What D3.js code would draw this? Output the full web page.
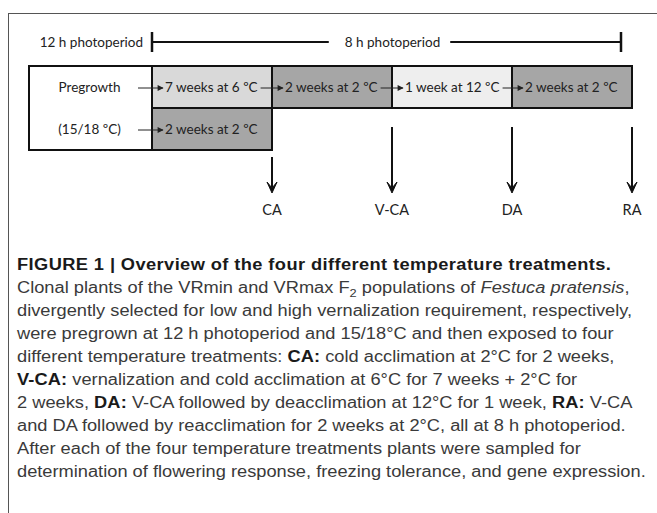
<!DOCTYPE html>
<html><head><meta charset="utf-8">
<script src="https://cdn.jsdelivr.net/npm/d3@7"></script>
<style>
html,body{margin:0;padding:0;background:#fff;}
svg{display:block;}
</style></head>
<body>
<script>
// ---- data ----
const pregrowthLabels = ["Pregrowth", "(15/18 ºC)"];
const mainSteps = ["7 weeks at 6 ºC", "2 weeks at 2 ºC", "1 week at 12 ºC", "2 weeks at 2 ºC"];
const mainTemps = [6, 2, 12, 2];
const caSteps = ["2 weeks at 2 ºC"];
const caTemps = [2];
const photoperiods = ["12 h photoperiod", "8 h photoperiod"];
const sampleLabels = ["CA", "V-CA", "DA", "RA"];
const sampleRow = [1, 0, 0, 0];      // row of the box the arrow leaves
const sampleAfter = [1, 2, 3, 4];    // step boundary index
const captionLines = [
  [{t:"FIGURE 1 | Overview of the four different temperature treatments.", b:1}],
  [{t:"Clonal plants of the VRmin and VRmax F"},{t:"2",sub:1},{t:" populations of "},{t:"Festuca pratensis",i:1},{t:","}],
  [{t:"divergently selected for low and high vernalization requirement, respectively,"}],
  [{t:"were pregrown at 12 h photoperiod and 15/18°C and then exposed to four"}],
  [{t:"different temperature treatments: "},{t:"CA:",b:1},{t:" cold acclimation at 2°C for 2 weeks,"}],
  [{t:"V-CA:",b:1},{t:" vernalization and cold acclimation at 6°C for 7 weeks + 2°C for"}],
  [{t:"2 weeks, "},{t:"DA:",b:1},{t:" V-CA followed by deacclimation at 12°C for 1 week, "},{t:"RA:",b:1},{t:" V-CA"}],
  [{t:"and DA followed by reacclimation for 2 weeks at 2°C, all at 8 h photoperiod."}],
  [{t:"After each of the four temperature treatments plants were sampled for"}],
  [{t:"determination of flowering response, freezing tolerance, and gene expression."}]
];

// ---- layout ----
const W = 657, H = 513;
const svg = d3.select("body").append("svg").attr("width", W).attr("height", H);
const x = d3.scaleLinear().domain([0, 4]).range([152, 632]);
const boxLeft = 29;
const y = d3.scaleBand().domain([0, 1]).range([66, 150]);
const fill = d3.scaleOrdinal().domain([2, 6, 12]).range(["#a6a6a6", "#d9d9d9", "#eeeeee"]);
const lineY = d3.scaleLinear().domain([0, captionLines.length - 1]).range([265, 472]);
const diagFont = "Lato, 'Open Sans', sans-serif";

// defs: arrowheads
const defs = svg.append("defs");
defs.append("marker").attr("id", "sm").attr("viewBox", "0 0 10 10").attr("refX", 9).attr("refY", 5)
  .attr("markerWidth", 7).attr("markerHeight", 6).attr("markerUnits", "userSpaceOnUse").attr("orient", "auto")
  .append("path").attr("d", "M0,0 L10,5 L0,10 Z").attr("fill", "#222");

// outer frame
svg.append("line").attr("x1", 8).attr("x2", W).attr("y1", 13.5).attr("y2", 13.5).attr("stroke", "#555").attr("stroke-width", 1);
svg.append("line").attr("x1", 8.5).attr("x2", 8.5).attr("y1", 13).attr("y2", H).attr("stroke", "#555").attr("stroke-width", 1);

// photoperiod bracket
const pY = 42;
const g = svg.append("g").attr("font-family", diagFont).attr("font-size", 13.5).attr("fill", "#222");
g.append("text").attr("x", x(0) - 9).attr("y", pY).attr("dy", "0.35em").attr("text-anchor", "end").text(photoperiods[0]);
const ppMid = (x(0) + x(4) - 11) / 2 + 6;
const t8 = g.append("text").attr("x", ppMid).attr("y", pY).attr("dy", "0.35em").attr("text-anchor", "middle").text(photoperiods[1]);
const t8w = t8.node().getComputedTextLength();
g.append("line").attr("x1", x(0)).attr("x2", ppMid - t8w / 2 - 16).attr("y1", pY).attr("y2", pY).attr("stroke", "#111").attr("stroke-width", 2);
g.append("line").attr("x1", ppMid + t8w / 2 + 10).attr("x2", x(4) - 11).attr("y1", pY).attr("y2", pY).attr("stroke", "#111").attr("stroke-width", 2);
[x(0), x(4) - 11].forEach(px => g.append("line").attr("x1", px).attr("x2", px).attr("y1", pY - 10).attr("y2", pY + 10).attr("stroke", "#111").attr("stroke-width", 2.5));

// pregrowth box
g.append("rect").attr("x", boxLeft).attr("y", y(0)).attr("width", x(0) - boxLeft).attr("height", y.bandwidth() * 2)
  .attr("fill", "#fff").attr("stroke", "#111").attr("stroke-width", 2);
pregrowthLabels.forEach((lab, i) => {
  g.append("text").attr("x", (boxLeft + x(0)) / 2 - 1).attr("y", y(i) + y.bandwidth() / 2).attr("dy", "0.35em")
    .attr("text-anchor", "middle").text(lab);
});

function drawRow(steps, temps, row) {
  const cells = g.selectAll(null).data(steps).enter();
  cells.append("rect").attr("x", (d, i) => x(i)).attr("y", y(row)).attr("width", (d, i) => x(i + 1) - x(i))
    .attr("height", y.bandwidth()).attr("fill", (d, i) => fill(temps[i])).attr("stroke", "#111").attr("stroke-width", 2);
  const texts = [];
  steps.forEach((s, i) => {
    const t = g.append("text").attr("x", x(i) + 13).attr("y", y(row) + y.bandwidth() / 2).attr("dy", "0.35em").text(s);
    texts.push(t);
  });
  steps.forEach((s, i) => {
    let from;
    if (i === 0) from = x(0) - 14;
    else from = x(i - 1) + 13 + texts[i - 1].node().getComputedTextLength() + 3;
    g.append("line").attr("x1", from).attr("x2", x(i) + 11).attr("y1", y(row) + y.bandwidth() / 2 + 1)
      .attr("y2", y(row) + y.bandwidth() / 2 + 1).attr("stroke", "#222").attr("stroke-width", 1).attr("marker-end", "url(#sm)");
  });
}
drawRow(mainSteps, mainTemps, 0);
drawRow(caSteps, caTemps, 1);

// sampling arrows
sampleLabels.forEach((lab, i) => {
  const px = x(sampleAfter[i]);
  const top = y(sampleRow[i]) + y.bandwidth() + (sampleRow[i] === 1 ? 7 : 19);
  const bot = 193;
  g.append("line").attr("x1", px).attr("x2", px).attr("y1", top).attr("y2", bot - 6).attr("stroke", "#111").attr("stroke-width", 2);
  g.append("path").attr("d", `M${px - 5},${bot - 11} L${px},${bot} L${px + 5},${bot - 11} L${px},${bot - 5} Z`).attr("fill", "#111")
    .attr("stroke", "#111").attr("stroke-width", 1).attr("stroke-linejoin", "miter");
  g.append("text").attr("x", px).attr("y", 210).attr("dy", "0.35em").attr("text-anchor", "middle").attr("font-size", 14.5).text(lab);
});

// caption (glyphs in the reference are wider than Liberation Sans: stretch horizontally)
const capX = 17;
const cap = svg.append("g").attr("transform", `translate(${capX},0) scale(1.17,1)`)
  .attr("font-family", "'Liberation Sans', Arial, sans-serif").attr("font-size", 15.6).attr("fill", "#3a3a3a");
captionLines.forEach((segs, li) => {
  const t = cap.append("text").attr("x", 0).attr("y", lineY(li)).attr("dy", "0.35em");
  segs.forEach((s, k) => {
    const ts = t.append("tspan").text(s.t);
    if (s.b) ts.attr("font-weight", "bold").attr("fill", "#1a1a1a").attr("letter-spacing", li === 0 ? 0.35 : 0.1);
    if (s.i) ts.attr("font-style", "italic");
    if (s.sub) ts.attr("font-size", 11).attr("dy", 4);
    if (k > 0 && segs[k - 1].sub) ts.attr("dy", -4);
  });
});
</script>
</body></html>
